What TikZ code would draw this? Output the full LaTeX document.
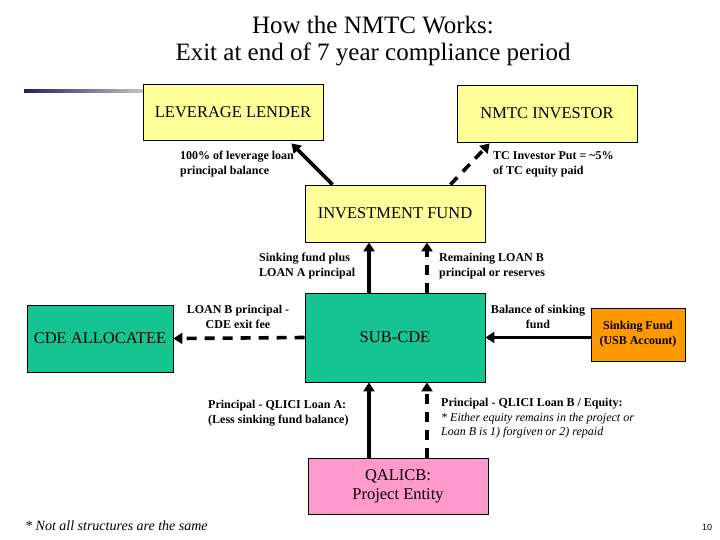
\documentclass[tikz,border=0pt]{standalone}
\usepackage{fontspec}
\setmainfont{Liberation Serif}
\newfontfamily\slidesans{Liberation Sans}
\usepackage{tikz}
\usetikzlibrary{arrows.meta, calc, positioning}

\definecolor{boxyellow}{RGB}{255,255,153}
\definecolor{boxteal}{RGB}{22,196,144}
\definecolor{boxorange}{RGB}{255,153,0}
\definecolor{boxpink}{RGB}{255,153,204}
\definecolor{barnavy}{RGB}{28,36,92}
\definecolor{bargray}{RGB}{196,196,204}

\begin{document}
\begin{tikzpicture}[x=1pt, y=-1pt,
    >={Triangle[length=9pt, width=11pt]},
    box/.style={draw, line width=0.8pt, inner sep=0pt, font=\fontsize{16.5}{18}\selectfont},
    flow/.style={->, line width=3.6pt},
    dflow/.style={->, line width=3.6pt, dash pattern=on 10pt off 8pt},
    lbl/.style={inner sep=0pt, align=left, font=\bfseries\fontsize{12}{15}\selectfont}]
            \useasboundingbox (0,0) rectangle (720,540);

            \node[font=\fontsize{25}{29}\selectfont] (title1) at (373,25) {How the NMTC Works:};
            \node[font=\fontsize{25}{29}\selectfont] (title2) at (373,54) {Exit at end of 7 year compliance period};
            \shade[left color=barnavy, right color=bargray] (24,89.5) rectangle (143,92.5);

            \node[box, fill=boxyellow, minimum width=180pt, minimum height=56pt] (lend) at (233,112) {LEVERAGE LENDER};
            \node[box, fill=boxyellow, minimum width=180pt, minimum height=57pt] (inv) at (547,113.5) {NMTC INVESTOR};
            \node[box, fill=boxyellow, minimum width=180pt, minimum height=57pt] (fund) at (395,213.5) {INVESTMENT FUND};
            \node[box, fill=boxteal, minimum width=180pt, minimum height=89pt] (sub) at (395,337.5) {SUB-CDE};
            \node[box, fill=boxteal, minimum width=146pt, minimum height=67pt] (alloc) at (100,338.5) {CDE ALLOCATEE};
            \node[box, fill=boxorange, minimum width=94pt, minimum height=53pt, align=center,
                  font=\bfseries\fontsize{12}{15}\selectfont] (sink) at (638,334.5) {Sinking Fund\\(USB Account)};
            \node[box, fill=boxpink, minimum width=180pt, minimum height=56pt, align=center,
                  font=\fontsize{16.5}{19}\selectfont] (qal) at (398,486) {QALICB:\\Project Entity};

            % Connections: exit payments
            \draw[flow] ([xshift=28pt]fund.north west) -- ([xshift=-32pt, yshift=-3pt]lend.south east);
            \draw[dflow] ([xshift=-35pt]fund.north east) -- ([xshift=33pt, yshift=-1pt]inv.south west);
            \draw[flow] ([xshift=-26pt]sub.north) -- ([xshift=-26pt]sub.north |- fund.south);
            \draw[dflow] ([xshift=32pt]sub.north) -- ([xshift=32pt]sub.north |- fund.south);
            \draw[dflow] (sub.west) -- (alloc.east);
            \draw[flow] (sink.west |- sub.east) -- (sub.east);
            \draw[flow] ([xshift=-26pt]sub.south |- qal.north) -- ([xshift=-26pt]sub.south);
            \draw[dflow] ([xshift=32pt]sub.south |- qal.north) -- ([xshift=32pt]sub.south);

            % Labels
            \node[lbl, anchor=north west] (l-lend) at (180,151) {100\% of leverage loan\\principal balance};
            \node[lbl, anchor=north west] (l-inv) at (493,151) {TC Investor Put = \textasciitilde5\%\\of TC equity paid};
            \node[lbl, anchor=north west] (l-sinkA) at (259,253) {Sinking fund plus\\LOAN A principal};
            \node[lbl, anchor=north west] (l-remB) at (439,253) {Remaining LOAN B\\principal or reserves};
            \node[lbl, anchor=north, align=center] (l-exit) at (238,305) {LOAN B principal -\\CDE exit fee};
            \node[lbl, anchor=north, align=center] (l-bal) at (538,305) {Balance of sinking\\fund};
            \node[lbl, anchor=north west] (l-loanA) at (208,400) {Principal - QLICI Loan A:\\(Less sinking fund balance)};
            \node[lbl, anchor=north west, font=\bfseries\fontsize{12}{14.5}\selectfont] (l-loanB) at (441,398) {Principal - QLICI Loan B / Equity:\\
                {\mdseries\itshape * Either equity remains in the project or}\\
                {\mdseries\itshape Loan B is 1) forgiven or 2) repaid}};

            \node[anchor=west, inner sep=0pt, font=\itshape\fontsize{14}{16}\selectfont] (note) at (25,526) {* Not all structures are the same};
            \node[inner sep=0pt, font=\slidesans\fontsize{9}{10}\selectfont] (page) at (707,527) {10};
        \end{tikzpicture}
\end{document}
